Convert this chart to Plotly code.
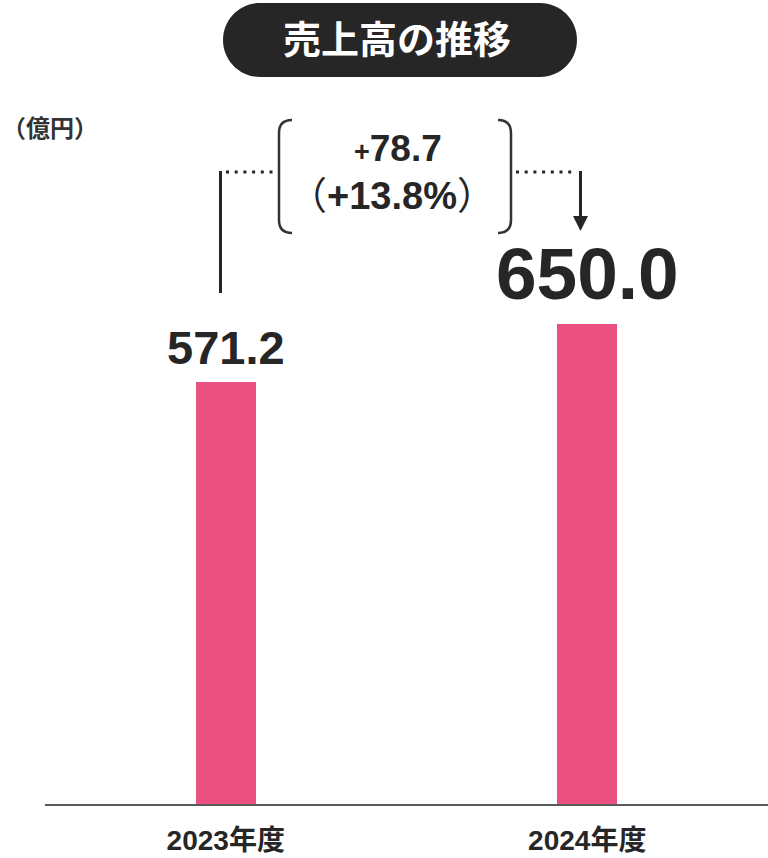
import plotly.graph_objects as go

# ---- data ----
categories = ["2023年度", "2024年度"]
sales = [571.2, 650.0]
label_texts = ["571.2", "650.0"]
diff_text = "+78.7"
pct_text = "+13.8%"
title_text = "売上高の推移"
unit_text = "（億円）"

W, H = 768, 858
OFF = 0  # body margin removed via post_script
BASE = 804  # screen y of baseline
ML, MR, MT = 45 - OFF, OFF, 0
MB = H - (BASE - OFF)
PW, PH = W - ML - MR, H - MT - MB
PPU = 480 / 650.0
YMAX = PH / PPU

FONT = "Arial, 'Liberation Sans', 'Noto Sans CJK JP', sans-serif"
DARK = "#262626"
PINK = "#EA5080"


def px(x):
    # screen x -> paper
    return (x - OFF - ML) / PW


def py(y):
    # screen y -> paper
    return (MT + PH - (y - OFF)) / PH


def path(points_cmds):
    out = []
    for cmd, pts in points_cmds:
        coords = [f"{px(x):.5f},{py(y):.5f}" for (x, y) in pts]
        out.append(cmd + " " + " ".join(coords))
    return " ".join(out)


fig = go.Figure()
fig.add_trace(go.Bar(
    x=categories, y=sales, width=0.166,
    marker=dict(color=PINK, line=dict(width=0)),
    hoverinfo="skip",
))

shapes = []
# title pill
x0, x1, y0, y1 = 223, 577, 3, 77
r = (y1 - y0) / 2
k = 0.5523 * r
pill = path([
    ("M", [(x0 + r, y0)]),
    ("L", [(x1 - r, y0)]),
    ("C", [(x1 - r + k, y0), (x1, y0 + r - k), (x1, y0 + r)]),
    ("C", [(x1, y0 + r + k), (x1 - r + k, y1), (x1 - r, y1)]),
    ("L", [(x0 + r, y1)]),
    ("C", [(x0 + r - k, y1), (x0, y0 + r + k), (x0, y0 + r)]),
    ("C", [(x0, y0 + r - k), (x0 + r - k, y0), (x0 + r, y0)]),
]) + " Z"
shapes.append(dict(type="path", xref="paper", yref="paper", path=pill,
                   fillcolor=DARK, line=dict(width=0), layer="below"))

LINE = dict(color=DARK, width=3)
# left vertical line
shapes.append(dict(type="line", xref="paper", yref="paper",
                   x0=px(220.5), x1=px(220.5), y0=py(171), y1=py(293), line=LINE))
# left dotted
shapes.append(dict(type="line", xref="paper", yref="paper",
                   x0=px(226), x1=px(277), y0=py(172), y1=py(172),
                   line=dict(color=DARK, width=3, dash="3px,5.7px")))
# braces
lb = path([("M", [(292, 120)]), ("C", [(284, 120), (279, 124), (279, 133)]),
           ("L", [(279, 220)]), ("C", [(279, 229), (284, 233), (292, 233)])])
rb = path([("M", [(498, 120)]), ("C", [(506, 120), (511, 124), (511, 133)]),
           ("L", [(511, 220)]), ("C", [(511, 229), (506, 233), (498, 233)])])
for p in (lb, rb):
    shapes.append(dict(type="path", xref="paper", yref="paper", path=p,
                       line=dict(color="#333333", width=2.5)))
# right dotted
shapes.append(dict(type="line", xref="paper", yref="paper",
                   x0=px(516), x1=px(577), y0=py(172), y1=py(172),
                   line=dict(color=DARK, width=3, dash="3px,5.7px")))
# arrow
shapes.append(dict(type="line", xref="paper", yref="paper",
                   x0=px(580.5), x1=px(580.5), y0=py(171), y1=py(218), line=LINE))
arrow = path([("M", [(573, 216)]), ("L", [(588, 216)]), ("L", [(580.5, 231)])]) + " Z"
shapes.append(dict(type="path", xref="paper", yref="paper", path=arrow,
                   fillcolor=DARK, line=dict(width=0)))

annotations = []
annotations.append(dict(xref="paper", yref="paper", x=px(397), y=py(40),
                        text=f"<b>{title_text}</b>", showarrow=False,
                        xanchor="center", yanchor="middle",
                        font=dict(family=FONT, size=38, color="white")))
annotations.append(dict(xref="paper", yref="paper", x=px(0), y=py(128),
                        text=f"<b>{unit_text}</b>", showarrow=False,
                        xanchor="left", yanchor="middle",
                        font=dict(family=FONT, size=24, color="#333333")))
annotations.append(dict(xref="paper", yref="paper", x=px(398), y=py(148),
                        text=f"<b><span style='font-size:27px'>{diff_text[0]}</span>{diff_text[1:]}</b>",
                        showarrow=False, xanchor="center", yanchor="middle",
                        font=dict(family=FONT, size=37, color=DARK)))
annotations.append(dict(xref="paper", yref="paper", x=px(392), y=py(196),
                        text=f"（<b>{pct_text}</b>）",
                        showarrow=False, xanchor="center", yanchor="middle",
                        font=dict(family=FONT, size=38, color=DARK)))
sizes = [47, 73]
shifts = [35, 51]
for c, v, t, s, sh in zip(categories, sales, label_texts, sizes, shifts):
    annotations.append(dict(xref="x", yref="y", x=c, y=v, yshift=sh,
                            text=f"<b>{t}</b>", showarrow=False,
                            xanchor="center", yanchor="middle",
                            font=dict(family=FONT, size=s, color=DARK)))

fig.update_layout(
    width=W, height=H,
    margin=dict(l=ML, r=MR, t=MT, b=MB, pad=0),
    paper_bgcolor="white", plot_bgcolor="white",
    showlegend=False,
    shapes=shapes, annotations=annotations,
    bargap=0,
    xaxis=dict(type="category", range=[-0.5, 1.5], showline=True,
               linecolor="#5a5a5a", linewidth=2, ticks="", showgrid=False,
               zeroline=False, ticklabelstandoff=10,
               tickfont=dict(family=FONT, size=28, color=DARK, weight="bold"),
               fixedrange=True),
    yaxis=dict(range=[0, YMAX], visible=False, showgrid=False, fixedrange=True),
)

fig.write_html("out.html", config={"displayModeBar": False},
               post_script="document.body.style.margin='0';")
